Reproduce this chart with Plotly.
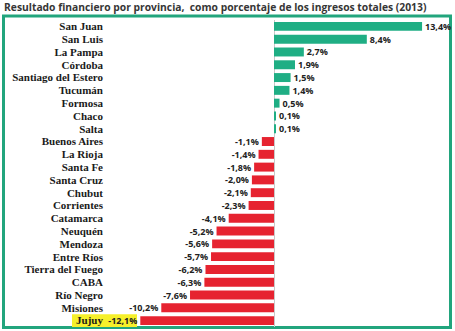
import plotly.graph_objects as go

provincias = ["San Juan", "San Luis", "La Pampa", "Córdoba", "Santiago del Estero",
              "Tucumán", "Formosa", "Chaco", "Salta", "Buenos Aires", "La Rioja",
              "Santa Fe", "Santa Cruz", "Chubut", "Corrientes", "Catamarca", "Neuquén",
              "Mendoza", "Entre Ríos", "Tierra del Fuego", "CABA", "Río Negro",
              "Misiones", "Jujuy"]
valores = [13.4, 8.4, 2.7, 1.9, 1.5, 1.4, 0.5, 0.1, 0.1, -1.1, -1.4, -1.8, -2.0,
           -2.1, -2.3, -4.1, -5.2, -5.6, -5.7, -6.2, -6.3, -7.6, -10.2, -12.1]

GREEN = "#1fae84"
RED = "#e62330"
FRAME = "#22a57d"

colores = [GREEN if v >= 0 else RED for v in valores]
etiquetas = [f"{v:.1f}".replace(".", ",") + "%" for v in valores]

n = len(provincias)
fig = go.Figure()
fig.add_trace(go.Bar(
    x=valores, y=list(range(n)), orientation="h",
    marker=dict(color=colores, line=dict(width=0)),
    text=etiquetas, textposition="outside", constraintext="none",
    textfont=dict(family="Open Sans", size=9, color="#222222", weight=700),
    cliponaxis=False, hoverinfo="skip",
))

L, R, T, B = 104, 5, 20, 4
W, H = 455, 331
pw = W - L - R
ph = H - T - B
px_per_unit = 11.05
zero_px = 274 - L
xmin = -zero_px / px_per_unit
xmax = (pw - zero_px) / px_per_unit

def xp(px):
    return (px - L) / pw

def yp(py):
    return (H - B - py) / ph

fig.update_layout(
    width=W, height=H,
    margin=dict(l=L, r=R, t=T, b=B),
    paper_bgcolor="white", plot_bgcolor="white",
    bargap=0.3, showlegend=False,
    title=dict(text="Resultado financiero por provincia,  como porcentaje de los ingresos totales (2013)",
               x=4 / W, xanchor="left", xref="container",
               y=1 - 7 / H, yanchor="middle", yref="container",
               font=dict(family="Open Sans", size=10.3, color="#363636", weight=700)),
    xaxis=dict(range=[xmin, xmax], showgrid=False, showticklabels=False,
               zeroline=True, zerolinecolor="#c8c8c8", zerolinewidth=1, fixedrange=True),
    yaxis=dict(range=[n - 0.5, -0.5], tickmode="array", tickvals=list(range(n)),
               ticktext=provincias, showgrid=False, zeroline=False, ticks="",
               tickfont=dict(family="Liberation Serif", size=11, color="#1a1a1a", weight=700),
               fixedrange=True),
    shapes=[
        dict(type="rect", xref="paper", yref="paper",
             x0=xp(3.5), x1=xp(450.5), y0=yp(327.5), y1=yp(16),
             line=dict(color=FRAME, width=3), fillcolor="rgba(0,0,0,0)", layer="below"),
        dict(type="rect", xref="paper", yref="y",
             x0=xp(72), x1=xp(137), y0=n - 1.5, y1=n - 0.5,
             line=dict(width=0), fillcolor="#f6f02a", layer="below"),
    ],
)

fig.write_html("out.html")
